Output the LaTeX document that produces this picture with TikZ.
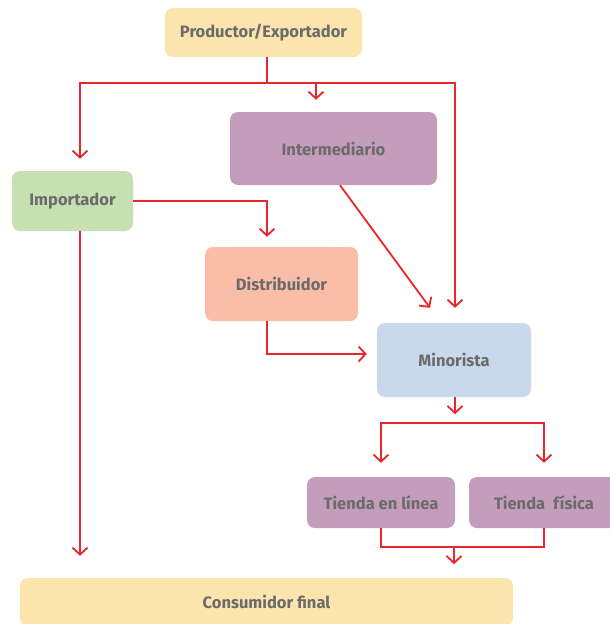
\documentclass[tikz,border=0pt]{standalone}
\usepackage{fontspec}
\setmainfont{Fira Sans}
\usetikzlibrary{arrows.meta,positioning,calc}
\definecolor{boxyellow}{HTML}{FCE5AC}
\definecolor{boxpurple}{HTML}{C39DBA}
\definecolor{boxgreen}{HTML}{C6E0B2}
\definecolor{boxsalmon}{HTML}{F9BDA8}
\definecolor{boxblue}{HTML}{C8D9EE}
\definecolor{flowred}{HTML}{E8262C}
\definecolor{labelgray}{HTML}{6B6B6B}

\begin{document}
\begin{tikzpicture}[x=1pt, y=-1pt,
  stage/.style={rectangle, rounded corners=8pt, draw=none, inner sep=0pt,
                font=\fontsize{16.5}{18}\selectfont\bfseries, text=labelgray},
  link/.style={draw=flowred, line width=1.8pt},
  arr/.style={link, -{Straight Barb[length=7pt, width=15pt]}}
]
\useasboundingbox (0,0) rectangle (610,624);

\node[stage, fill=boxyellow, minimum width=197pt, minimum height=49pt] (prod) at (263.5,32.5) {Productor/Exportador};
\node[stage, fill=boxpurple, minimum width=207pt, minimum height=73pt] (inter) at (333.5,148.5) {Intermediario};
\node[stage, fill=boxgreen, minimum width=121pt, minimum height=60pt] (imp) at (72.5,201) {Importador};
\node[stage, fill=boxsalmon, minimum width=153pt, minimum height=74pt] (dist) at (281.5,284) {Distribuidor};
\node[stage, fill=boxblue, minimum width=154pt, minimum height=74pt] (mino) at (454,360) {Minorista};
\node[stage, fill=boxpurple, minimum width=148pt, minimum height=51pt] (linea) at (381,502.5) {Tienda en línea};
\node[stage, fill=boxpurple, minimum width=150pt, minimum height=51pt] (fisica) at (544,502.5) {Tienda~ física};
\node[stage, fill=boxyellow, minimum width=493pt, minimum height=48pt] (cons) at (266.5,602) {Consumidor final};

% productor hacia los tres primeros eslabones
\draw[link] ([xshift=3.5pt]prod.south) -- ++(0,26) coordinate (split);
\draw[arr] (split) -| ([xshift=7.5pt, yshift=12pt]imp.north);
\draw[arr] (split) -| ([xshift=-17.5pt, yshift=12pt]inter.north);
\draw[arr] (split) -| ([xshift=1pt, yshift=15pt]mino.north);

% importador
\draw[arr] (imp.east) -| ([xshift=-14.5pt, yshift=10pt]dist.north);
\coordinate (impout) at ([xshift=7.5pt]imp.south);
\draw[arr, shorten >=22pt] (impout) -- (impout |- cons.north);

% hacia el minorista
\draw[arr] ([xshift=6.5pt]inter.south) -- ([xshift=-24pt, yshift=15pt]mino.north);
\draw[arr] ([xshift=-14.5pt]dist.south) |- ([xshift=-10pt, yshift=6pt]mino.west);

% minorista hacia las tiendas
\draw[arr] ([xshift=1pt]mino.south) -- ++(0,17);
\coordinate (fork) at ([yshift=-26pt]mino.south);
\draw[arr] (fork) -| ([yshift=14pt]linea.north);
\draw[arr] (fork) -| ([yshift=14pt]fisica.north);

% tiendas hacia el consumidor
\draw[link] (linea.south) -- ++(0,19) coordinate (join) -| (fisica.south);
\draw[arr] (join -| mino.south) -- ++(0,17);
\end{tikzpicture}
\end{document}
